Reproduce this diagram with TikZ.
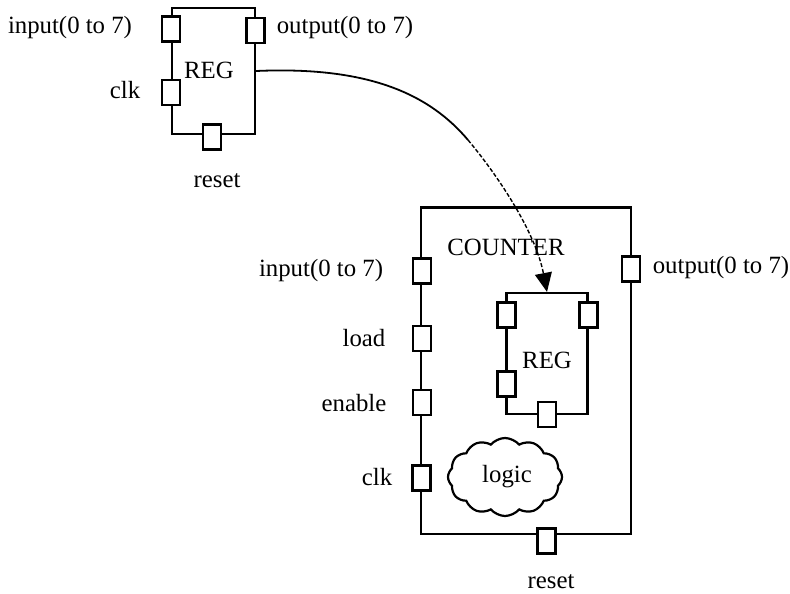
\documentclass[tikz,border=0pt]{standalone}
\usepackage{fontspec}
\setmainfont{Liberation Serif}
\usetikzlibrary{arrows.meta,shapes.symbols}
\begin{document}
\begin{tikzpicture}[x=0.5pt,y=-0.5pt,
  box/.style={draw,line width=1.1pt,rectangle,inner sep=0pt},
  port/.style={draw,line width=1.1pt,rectangle,fill=white,inner sep=0pt,minimum width=9pt,minimum height=12.5pt},
  lbl/.style={font=\fontsize{12.4}{14}\selectfont,inner sep=0pt},
  link/.style={line width=0.9pt},
  linkd/.style={line width=0.7pt,dash pattern=on 2pt off 1pt}]
\useasboundingbox (0,0) rectangle (790,593);
% top REG
\node[box,minimum width=41.5pt,minimum height=63pt] (reg1) at (213.5,71) {};
\node[port] (r1in) at (171,29) {};
\node[port] (r1out) at (255.5,30.5) {};
\node[port] (r1clk) at (171,92.5) {};
\node[port] (r1rst) at (212,137) {};
\node[lbl] (r1t) at (209,70) {REG};
\node[lbl] (r1inl) at (70,28) {input(0 to 7)};
\node[lbl] (r1outl) at (345,28) {output(0 to 7)};
\node[lbl] (r1clkl) at (125,90) {clk};
\node[lbl] (r1rstl) at (217,181) {reset};
% COUNTER
\node[box,minimum width=105pt,minimum height=163.25pt] (cnt) at (526,370.75) {};
\node[port] (cin) at (422,271) {};
\node[port] (cload) at (422,338.5) {};
\node[port] (cen) at (422,402.5) {};
\node[port] (cclk) at (421.5,478) {};
\node[port] (cout) at (631,269) {};
\node[port] (crst) at (546.5,541) {};
\node[lbl] (ct) at (506,247) {COUNTER};
\node[lbl] (cinl) at (321,271) {input(0 to 7)};
\node[lbl] (coutl) at (721,268) {output(0 to 7)};
\node[lbl] (cloadl) at (364,338) {load};
\node[lbl] (cenl) at (354,403) {enable};
\node[lbl] (cclkl) at (377,477) {clk};
\node[lbl] (crstl) at (551,582) {reset};
% inner REG
\node[box,minimum width=40.5pt,minimum height=60.5pt] (reg2) at (547,353.5) {};
\node[port] (r2in) at (506.5,315) {};
\node[port] (r2out) at (588.5,315) {};
\node[port] (r2clk) at (506.5,384) {};
\node[port] (r2rst) at (547,414.5) {};
\node[lbl] (r2t) at (547,360) {REG};
% logic cloud
\node[draw,line width=1.1pt,cloud,cloud puffs=12,cloud puff arc=100,aspect=1.5,minimum width=57pt,minimum height=39pt,inner sep=0pt] (logic) at (505,477) {};
\node[lbl] (logict) at (507,477) {logic};
% connector
\coordinate (mid) at (468,140);
\draw[link] (reg1.east) .. controls (370,66) and (430,95) .. (mid);
\draw[linkd,-{Triangle[length=9.5pt,width=8.5pt]}] (mid) .. controls (495,172) and (535,230) .. (reg2.north);
\end{tikzpicture}
\end{document}
